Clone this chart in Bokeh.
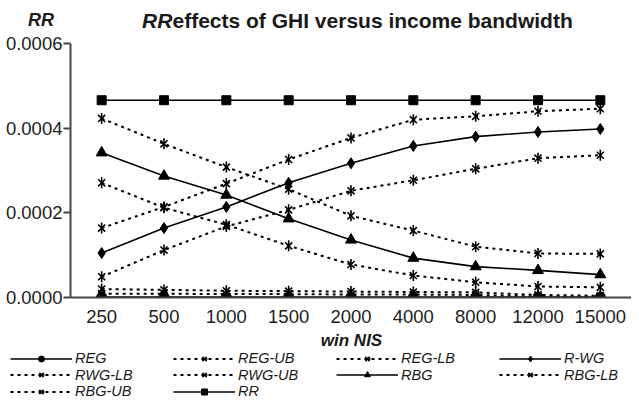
import math
from bokeh.plotting import figure
from bokeh.layouts import column
from bokeh.models import Range1d, FixedTicker, NumeralTickFormatter, Legend, LegendItem, Label
from bokeh.embed import file_html
from bokeh.resources import INLINE

categories = ["250", "500", "1000", "1500", "2000", "4000", "8000", "12000", "15000"]

REG = [0.000001, 0.000001, 0.000001, 0.000001, 0.000001, 0.000001, 0.000001, 0.000001, 0.000001]
REG_UB = [0.000020, 0.000018, 0.000016, 0.000015, 0.000014, 0.000013, 0.000012, 0.000006, 0.000004]
REG_LB = [0.000009, 0.000009, 0.000008, 0.000008, 0.000007, 0.000007, 0.000006, 0.000002, 0.000002]
R_WG = [0.000105, 0.000164, 0.000214, 0.000271, 0.000317, 0.000358, 0.000380, 0.000391, 0.000398]
RWG_LB = [0.000049, 0.000112, 0.000168, 0.000207, 0.000252, 0.000277, 0.000304, 0.000329, 0.000336]
RWG_UB = [0.000164, 0.000214, 0.000269, 0.000326, 0.000377, 0.000420, 0.000428, 0.000440, 0.000446]
RBG = [0.000342, 0.000287, 0.000242, 0.000186, 0.000136, 0.000093, 0.000073, 0.000064, 0.000054]
RBG_LB = [0.000271, 0.000212, 0.000172, 0.000122, 0.000078, 0.000052, 0.000036, 0.000026, 0.000024]
RBG_UB = [0.000423, 0.000363, 0.000308, 0.000256, 0.000193, 0.000158, 0.000120, 0.000104, 0.000103]
RR = [0.000466, 0.000466, 0.000466, 0.000466, 0.000466, 0.000466, 0.000466, 0.000466, 0.000466]

y_ticks = [0.0, 0.0002, 0.0004, 0.0006]

series = [
    ("REG", REG, "circle", "solid"),
    ("REG-UB", REG_UB, "asterisk", "dotted"),
    ("REG-LB", REG_LB, "asterisk", "dotted"),
    ("R-WG", R_WG, "diamond", "solid"),
    ("RWG-LB", RWG_LB, "asterisk", "dotted"),
    ("RWG-UB", RWG_UB, "asterisk", "dotted"),
    ("RBG", RBG, "triangle", "solid"),
    ("RBG-LB", RBG_LB, "asterisk", "dotted"),
    ("RBG-UB", RBG_UB, "asterisk", "dotted"),
    ("RR", RR, "square", "solid"),
]

FONT = "Liberation Sans"
INK = "#1a1a1a"
AXC = "#444444"


def draw_series(fig, xs, vals, marker, dash):
    ln = fig.line(xs, vals, line_color="black",
                  line_width=1.6 if dash == "solid" else 2,
                  line_dash="solid" if dash == "solid" else "3 4")
    if marker == "asterisk":
        s1 = fig.scatter(xs, vals, marker="x", size=10, line_color="black", line_width=1.6)
        s2 = fig.scatter(xs, vals, marker="dash", size=11, angle=math.pi / 2,
                         line_color="black", line_width=1.6)
        return [ln, s1, s2]
    sz = {"circle": 10, "diamond": 11, "triangle": 11, "square": 9}[marker]
    sc = fig.scatter(xs, vals, marker=marker, size=sz, fill_color="black",
                     line_color="black", line_width=1)
    return [ln, sc]


# ---- title strip ----
t = figure(width=631, height=32, x_range=Range1d(0, 1), y_range=Range1d(0, 1),
           x_axis_type=None, y_axis_type=None, output_backend="svg",
           toolbar_location=None, min_border=0, frame_align=False)
t.outline_line_color = None
t.grid.visible = False
t.add_layout(Label(x=40.5, y=12.5, x_units="screen", y_units="screen", text="RR",
                   text_font=FONT, text_font_style="bold italic", text_font_size="18px",
                   text_color=INK, text_align="center", text_baseline="middle"))
t.add_layout(Label(x=141.5, y=12.5, x_units="screen", y_units="screen", text="RR",
                   text_font=FONT, text_font_style="bold italic", text_font_size="21px",
                   text_color=INK, text_align="left", text_baseline="middle"))
t.add_layout(Label(x=172, y=12.5, x_units="screen", y_units="screen",
                   text="effects of GHI versus income bandwidth",
                   text_font=FONT, text_font_style="bold", text_font_size="21px",
                   text_color=INK, text_align="left", text_baseline="middle"))

# ---- main chart ----
p = figure(width=631, height=298, x_range=categories, y_range=Range1d(0, 0.0006),
           output_backend="svg", toolbar_location=None, frame_align=False,
           min_border_left=70, min_border_right=0, min_border_top=11, min_border_bottom=33)
p.outline_line_color = None

p.xgrid.grid_line_color = None
p.ygrid.ticker = FixedTicker(ticks=[0.0006])
p.ygrid.grid_line_color = AXC
p.ygrid.grid_line_width = 2.5

p.yaxis.ticker = FixedTicker(ticks=y_ticks)
p.yaxis.formatter = NumeralTickFormatter(format="0.0000")
p.yaxis.minor_tick_line_color = None
p.yaxis.major_tick_out = 7
p.yaxis.major_tick_in = 0
p.yaxis.major_label_standoff = 1
p.yaxis.axis_line_width = 2
p.yaxis.axis_line_color = AXC
p.yaxis.major_tick_line_color = AXC
p.yaxis.major_tick_line_width = 2

p.xaxis.major_tick_line_color = None
p.xaxis.major_tick_out = 0
p.xaxis.axis_line_width = 2
p.xaxis.axis_line_color = AXC
p.xaxis.major_label_standoff = 12

for ax in (p.xaxis, p.yaxis):
    ax.major_label_text_font = FONT
    ax.major_label_text_font_size = "18.5px"
    ax.major_label_text_color = "#222222"

for name, vals, marker, dash in series:
    draw_series(p, categories, vals, marker, dash)

# ---- x-axis title + legend strip (its renderers sit outside the visible range) ----
lg = figure(width=631, height=72, x_range=categories, y_range=Range1d(1, 2),
            x_axis_type=None, y_axis_type=None, output_backend="svg",
            toolbar_location=None, min_border=0, frame_align=False)
lg.outline_line_color = None
lg.grid.visible = False
lg.add_layout(Label(x=351, y=62, x_units="screen", y_units="screen", text="win NIS",
                    text_font=FONT, text_font_style="bold italic", text_font_size="17px",
                    text_color=INK, text_align="center", text_baseline="middle"))

key = {}
for name, vals, marker, dash in series:
    key[name] = draw_series(lg, categories, vals, marker, dash)

names = [s[0] for s in series]
rows = [names[0:4], names[4:8], names[8:10]]
for i, row in enumerate(rows):
    leg = Legend(items=[LegendItem(label=n, renderers=key[n]) for n in row],
                 orientation="horizontal", location=(10, 3 + 16.5 * (2 - i)),
                 padding=0, margin=0, spacing=0,
                 glyph_width=62, glyph_height=15, label_height=15, label_width=98,
                 label_standoff=3, border_line_color=None, background_fill_alpha=0,
                 label_text_font=FONT, label_text_font_style="italic",
                 label_text_font_size="14.5px", label_text_color=INK)
    lg.add_layout(leg)

layout = column(t, p, lg, spacing=0)
open("out.html", "w").write(file_html(layout, INLINE))
